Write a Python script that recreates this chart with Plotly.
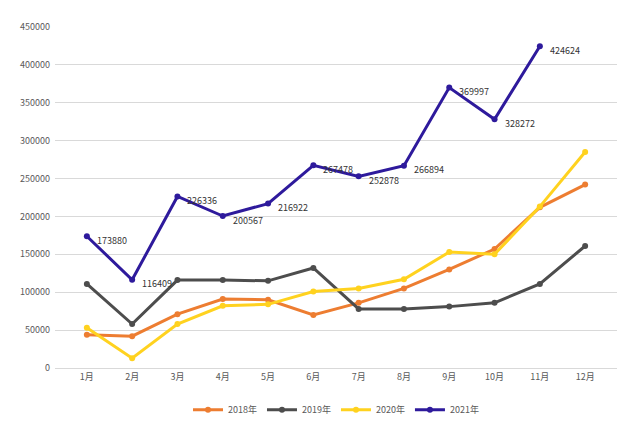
import plotly.graph_objects as go

months = [f'{i}月' for i in range(1, 13)]
s2018 = [44000, 42000, 71000, 91000, 90000, 70000, 86000, 105000, 130000, 157000, 212000, 242000]
s2019 = [111000, 58000, 116000, 116000, 115000, 132000, 78000, 78000, 81000, 86000, 111000, 161000]
s2020 = [53000, 13000, 58000, 82000, 84000, 101000, 105000, 117000, 153000, 150000, 213000, 285000]
s2021 = [173880, 116409, 226336, 200567, 216922, 267478, 252878, 266894, 369997, 328272, 424624]

series = [('2018年', s2018, '#ED7D31'), ('2019年', s2019, '#4D4D4D'),
          ('2020年', s2020, '#FFD21F'), ('2021年', s2021, '#2E1A9C')]

fig = go.Figure()
for name, ys, c in series:
    fig.add_trace(go.Scatter(x=months[:len(ys)], y=ys, name=name, mode='lines+markers',
                             line=dict(color=c, width=3), marker=dict(size=6, color=c)))

# data labels for 2021
for m, v in zip(months, s2021):
    fig.add_annotation(x=m, y=v, text=str(v), showarrow=False, xanchor='left',
                       xshift=8, yshift=-4, font=dict(size=9, color='#333'))

fig.update_layout(
    width=629, height=428, plot_bgcolor='white', paper_bgcolor='white',
    margin=dict(l=38, r=20, t=15, b=53),
    font=dict(family='Noto Sans CJK SC, sans-serif', size=9, color='#595959'),
    legend=dict(orientation='h', x=0.5, xanchor='center', y=-0.08, yanchor='top', font=dict(size=9)),
)
fig.update_xaxes(showgrid=False, showline=True, linecolor='#d9d9d9', ticks='')
fig.update_yaxes(range=[0, 450000], dtick=50000, gridcolor='#d9d9d9', zeroline=False,
                 tickformat='d', ticklabelstandoff=4)
fig.write_html('out.html')
